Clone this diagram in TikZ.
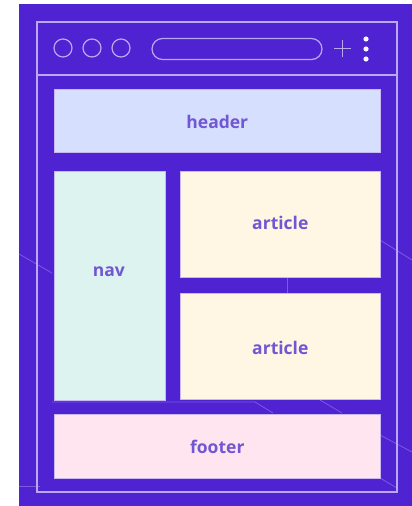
\documentclass[tikz,border=0pt]{standalone}
\usepackage{fontspec}
\setmainfont{Open Sans}
\begin{document}
\begin{tikzpicture}[x=1pt,y=-1pt,
  frameline/.style={draw=frameC, line width=1.2pt},
  deco/.style={draw=decoC, line width=0.8pt},
  panel/.style={draw=panelEdge, line width=0.6pt, inner sep=0pt, anchor=north west},
  dotc/.style={circle, draw=frameC, line width=1.2pt, minimum size=18pt, inner sep=0pt},
  lbl/.style={text=textC, font=\bfseries\fontsize{17.5}{21}\selectfont}
]
\definecolor{bgC}{HTML}{4F22D2}
\definecolor{frameC}{HTML}{BBA8F2}
\definecolor{decoC}{HTML}{7A5BE0}
\definecolor{panelEdge}{HTML}{C9B8F5}
\definecolor{textC}{HTML}{7257D2}
\definecolor{headC}{HTML}{D6DFFE}
\definecolor{navC}{HTML}{DDF3EF}
\definecolor{artC}{HTML}{FFF6E3}
\definecolor{footC}{HTML}{FFE5EF}
\useasboundingbox (0,0) rectangle (412,506);
\fill[white] (0,0) rectangle (412,506);
\fill[bgC] (19,4) rectangle (412,506);
% decorative background lines
\draw[deco] (19,254) -- (52,273);
\draw[deco] (380,240) -- (412,260);
\draw[deco] (380,435) -- (412,452);
\draw[deco] (52,402) -- (255,402) -- (273,413);
\draw[deco] (320,400) -- (342,413);
\draw[deco] (287,277) -- (287,293);
\draw[deco] (19,486) -- (40,486);
\draw[deco] (380,478) -- (397,488);
% window frame
\draw[frameline] (37,22) rectangle (397,492);
\draw[frameline] (37,75) -- (397,75);
% toolbar
\node[dotc] (c1) at (63,48) {};
\node[dotc] (c2) at (92,48) {};
\node[dotc] (c3) at (121,48) {};
\draw[frameline, rounded corners=10.5pt] (152,38.5) rectangle (322,59.5);
\draw[frameline, line width=1pt] (334,48) -- (351,48) (342.5,39.5) -- (342.5,56.5);
\fill[white!90!frameC] (366,39) circle (2.6) (366,49) circle (2.6) (366,59) circle (2.6);
% panels
\node[panel, fill=headC, minimum width=326pt, minimum height=63pt] (header) at (54,89) {};
\node[panel, fill=navC, minimum width=111pt, minimum height=229pt] (nav) at (54,171) {};
\node[panel, fill=artC, minimum width=200pt, minimum height=106pt] (art1) at (180,171) {};
\node[panel, fill=artC, minimum width=200pt, minimum height=106pt] (art2) at (180,293) {};
\node[panel, fill=footC, minimum width=326pt, minimum height=64pt] (footer) at (54,414) {};
\node[lbl] at ([yshift=-1pt]header.center) {header};
\node[lbl] at ([xshift=-1pt,yshift=14pt]nav.center) {nav};
\node[lbl] at ([yshift=1.5pt]art1.center) {article};
\node[lbl] at ([yshift=-1.5pt]art2.center) {article};
\node[lbl] at ([yshift=-1pt]footer.center) {footer};
\end{tikzpicture}
\end{document}
